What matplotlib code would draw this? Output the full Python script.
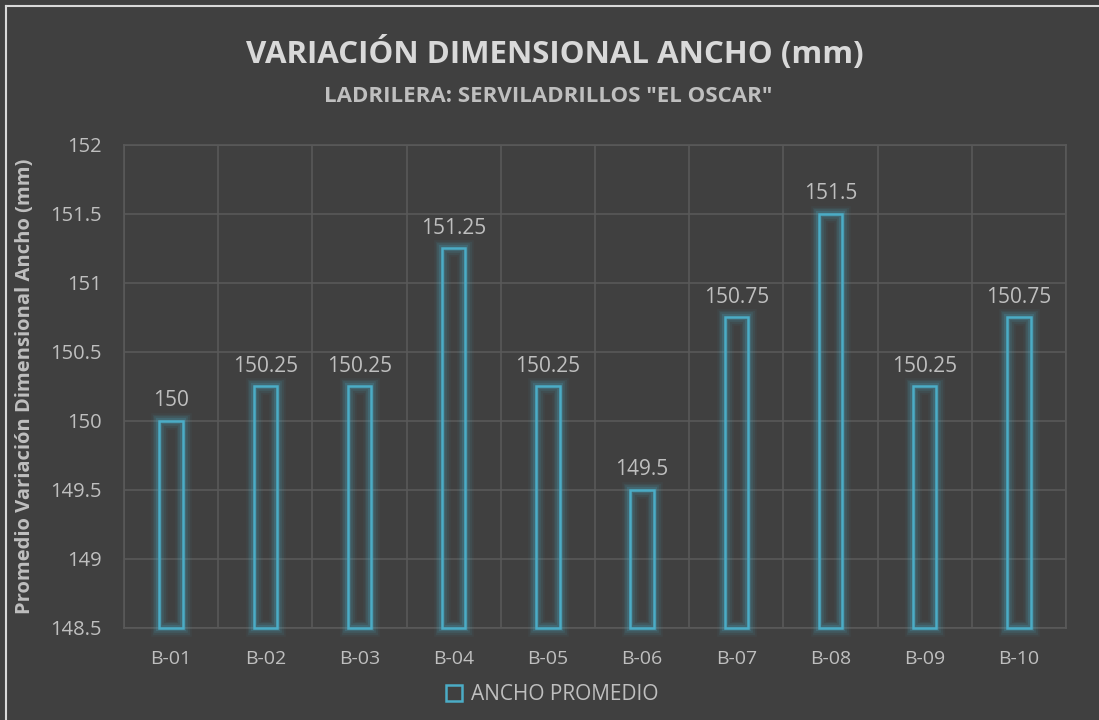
import matplotlib
matplotlib.use("Agg")
import matplotlib.pyplot as plt
import numpy as np
from matplotlib.patches import Rectangle
from matplotlib.lines import Line2D

categories = ["B-01", "B-02", "B-03", "B-04", "B-05", "B-06", "B-07", "B-08", "B-09", "B-10"]
ancho = [150, 150.25, 150.25, 151.25, 150.25, 149.5, 150.75, 151.5, 150.25, 150.75]
y_ticks = [148.5, 149, 149.5, 150, 150.5, 151, 151.5, 152]
y_tick_labels = ["148.5", "149", "149.5", "150", "150.5", "151", "151.5", "152"]

BG = "#404040"
GRID = "#595959"
BAR = "#4BACC6"
TXT = "#BFBFBF"

plt.rcParams["font.family"] = ["Open Sans", "DejaVu Sans"]

W, H = 1099, 720
fig = plt.figure(figsize=(W / 100, H / 100), dpi=100, facecolor=BG)
ax = fig.add_axes([124 / W, 1 - 628 / H, (1066 - 124) / W, (628 - 145) / H])
ax.set_facecolor(BG)

# outer chart border, only top and left edges show
fig.add_artist(Line2D([6 / W, 6 / W], [0, 1 - 6 / H], transform=fig.transFigure,
                      color="#D9D9D9", lw=1.5))
fig.add_artist(Line2D([6 / W, 1.01], [1 - 6 / H, 1 - 6 / H], transform=fig.transFigure,
                      color="#D9D9D9", lw=1.5))

x = np.arange(len(categories))
ax.set_xlim(-0.5, len(categories) - 0.5)
ax.set_ylim(148.5, 152)
base = 148.5
width = 0.25

# glow layers then crisp outline
for lw, a in [(12, 0.05), (9.5, 0.08), (7, 0.12), (4.5, 0.2)]:
    for xi, v in zip(x, ancho):
        ax.add_patch(Rectangle((xi - width / 2, base), width, v - base, fill=False,
                               edgecolor=BAR, lw=lw, alpha=a, zorder=3, clip_on=False))
for xi, v in zip(x, ancho):
    ax.add_patch(Rectangle((xi - width / 2, base), width, v - base, fill=False,
                           edgecolor=BAR, lw=1.8, zorder=4, clip_on=False))
    ax.text(xi, v + 0.07, f"{v:g}", ha="center", va="bottom", color=TXT, fontsize=15, zorder=5)

ax.set_yticks(y_ticks)
ax.set_yticklabels(y_tick_labels)
ax.set_xticks(x)
ax.set_xticklabels(categories)
ax.set_xticks(np.arange(-0.5, len(categories)), minor=True)
ax.grid(True, axis="y", color=GRID, lw=1.2)
ax.grid(True, axis="x", which="minor", color=GRID, lw=1.2)
ax.tick_params(axis="both", which="both", length=0, colors=TXT)
ax.tick_params(axis="y", pad=16, labelsize=14.5)
ax.tick_params(axis="x", pad=16, labelsize=14)
for s in ax.spines.values():
    s.set_color(GRID)
    s.set_linewidth(1.2)
ax.set_axisbelow(True)

ax.set_ylabel("Promedio Variación Dimensional Ancho (mm)", color=TXT, fontsize=14.5,
              fontweight="bold")
ax.yaxis.set_label_coords(-(124 - 25) / (1066 - 124), 0.5)
ax.yaxis.label.set_va("center")

fig.text(555 / W, 1 - 53 / H, "VARIACIÓN DIMENSIONAL ANCHO (mm)", ha="center", va="center",
         color="#D9D9D9", fontsize=22.5, fontweight="bold")
fig.text(548 / W, 1 - 96 / H, 'LADRILERA: SERVILADRILLOS "EL OSCAR"', ha="center", va="center",
         color=TXT, fontsize=16, fontweight="bold")

handle = Line2D([], [], marker="s", markersize=11, markerfacecolor="none",
                markeredgecolor=BAR, markeredgewidth=1.8, linestyle="none")
fig.legend([handle], ["ANCHO PROMEDIO"], loc="center", bbox_to_anchor=(551 / W, 1 - 695 / H),
           frameon=False, fontsize=15, labelcolor=TXT, handletextpad=0.3, borderpad=0,
           handlelength=1.0)

fig.savefig("out.png", dpi=100, facecolor=BG)
